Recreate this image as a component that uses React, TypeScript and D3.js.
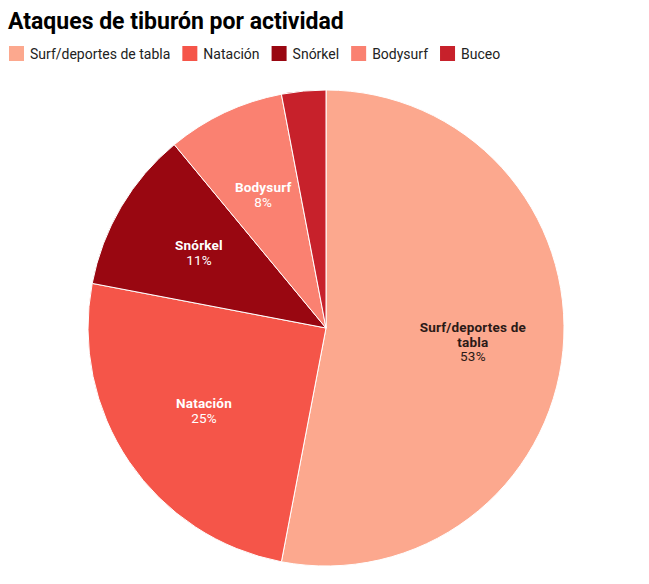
import { useMemo } from 'react'
import * as d3 from 'd3'

const activities = ['Surf/deportes de tabla', 'Natación', 'Snórkel', 'Bodysurf', 'Buceo']
const shares = [53, 25, 11, 8, 3]
const colors = ['#FCA88E', '#F55549', '#990711', '#FA8171', '#C7212B']
const labelInk = ['#2b1a17', '#ffffff', '#ffffff', '#ffffff', '#ffffff']

const W = 649
const H = 584
const FONT = 'Roboto, "Noto Sans", sans-serif'

function wrap(text: string, maxChars: number) {
  const words = text.split(' ')
  const lines: string[] = []
  let cur = ''
  for (const w of words) {
    const next = cur ? cur + ' ' + w : w
    if (next.length > maxChars && cur) {
      lines.push(cur)
      cur = w
    } else cur = next
  }
  if (cur) lines.push(cur)
  return lines
}

function measure(text: string, font: string) {
  const ctx = document.createElement('canvas').getContext('2d')
  if (!ctx) return text.length * 7
  ctx.font = font
  return ctx.measureText(text).width
}

export default function App() {
  const data = activities.map((name, i) => ({ name, value: shares[i], color: colors[i], ink: labelInk[i] }))
  const cx = 326
  const cy = 328
  const r = 238

  const arcs = d3.pie<any>().sort(null).value(d => d.value)(data)
  const arc = d3.arc<any>().innerRadius(0).outerRadius(r)
  const labelArc = d3.arc<any>().innerRadius(r * 0.62).outerRadius(r * 0.62)

  const legend = useMemo(() => {
    let x = 9
    return data.map(d => {
      const item = { ...d, x }
      x += 21 + measure(d.name, `14px ${FONT}`) + 12
      return item
    })
  }, [])

  document.body.style.margin = '0'

  return (
    <svg width={W} height={H} style={{ display: 'block', background: '#fff' }} fontFamily={FONT}>
      <text x={8} y={29} fontSize={23} fontWeight={700} fill="#000">Ataques de tiburón por actividad</text>
      {legend.map(d => (
        <g key={d.name} transform={`translate(${d.x},46)`}>
          <rect width={15} height={15} fill={d.color} />
          <text x={21} y={12.5} fontSize={14} fill="#222">{d.name}</text>
        </g>
      ))}
      <g transform={`translate(${cx},${cy})`}>
        {arcs.map(a => (
          <path key={a.data.name} d={arc(a) as string} fill={a.data.color} stroke="#fff" strokeWidth={1} />
        ))}
        {arcs.filter(a => a.data.value >= 5).map(a => {
          const [lx, ly] = labelArc.centroid(a)
          const lines = wrap(a.data.name, 16)
          const lh = 14.5
          const n = lines.length + 1
          const y0 = ly - ((n - 1) * lh) / 2 + 4.8
          return (
            <text key={a.data.name} textAnchor="middle" fontSize={13.5} fill={a.data.ink} letterSpacing={0.2}>
              {lines.map((l, i) => (
                <tspan key={i} x={lx} y={y0 + i * lh} fontWeight={700}>{l}</tspan>
              ))}
              <tspan x={lx} y={y0 + lines.length * lh}>{d3.format('.0f')(a.data.value)}%</tspan>
            </text>
          )
        })}
      </g>
    </svg>
  )
}
